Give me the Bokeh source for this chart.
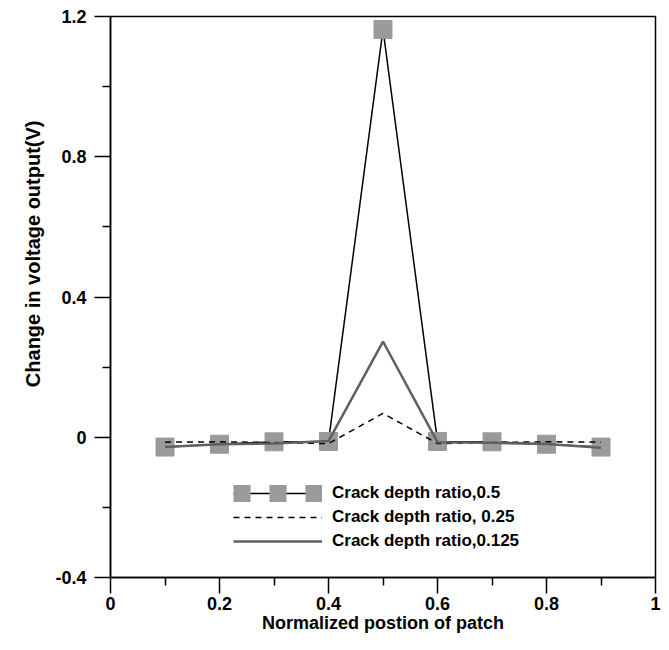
from bokeh.plotting import figure
from bokeh.models import FixedTicker, NumeralTickFormatter, Legend, LegendItem, Title
from bokeh.embed import file_html
from bokeh.resources import INLINE

x = [0.1, 0.2, 0.3, 0.4, 0.5, 0.6, 0.7, 0.8, 0.9]
ratio_050 = [-0.028, -0.020, -0.013, -0.012, 1.163, -0.012, -0.013, -0.020, -0.028]
ratio_025 = [-0.014, -0.013, -0.015, -0.018, 0.068, -0.018, -0.015, -0.013, -0.014]
ratio_0125 = [-0.028, -0.020, -0.018, -0.011, 0.273, -0.014, -0.016, -0.019, -0.030]
labels = ["Crack depth ratio,0.5", "Crack depth ratio, 0.25", "Crack depth ratio,0.125"]
x_title = "Normalized postion of patch"
y_title = "Change in voltage output(V)"
x_ticks = [0, 0.2, 0.4, 0.6, 0.8, 1]
x_minor = [0.1, 0.3, 0.5, 0.7, 0.9]
y_ticks = [-0.4, 0, 0.4, 0.8, 1.2]
y_minor = [-0.2, 0.2, 0.6, 1.0]

FONT = "Liberation Sans"
SQ = "#9a9a9a"

p = figure(width=669, height=650, x_range=(0, 1), y_range=(-0.4, 1.2),
           output_backend="svg", toolbar_location=None,
           min_border_left=110, min_border_right=14, min_border_top=16, min_border_bottom=73)
p.xgrid.visible = False
p.ygrid.visible = False
p.outline_line_color = "black"
p.outline_line_width = 1.5
p.background_fill_color = "white"
p.border_fill_color = "white"

r1l = p.line(x, ratio_050, line_color="black", line_width=1.5)
r1s = p.scatter(x, ratio_050, marker="square", size=18, fill_color=SQ, line_color=SQ)
r2 = p.line(x, ratio_025, line_color="black", line_width=1.5, line_dash="6 5")
r3 = p.line(x, ratio_0125, line_color="#606060", line_width=2.5)
# legend-only glyph (hidden in the plot): row of squares for the first series
r1k = p.line(x, ratio_050, line_color=SQ, line_width=17, line_dash="17 19",
             line_cap="butt", visible=False)

for ax, ticks, minor in ((p.xaxis[0], x_ticks, x_minor), (p.yaxis[0], y_ticks, y_minor)):
    ax.ticker = FixedTicker(ticks=ticks, minor_ticks=minor)
    ax.formatter = NumeralTickFormatter(format="0.[0]")
    ax.major_tick_in = 0
    ax.major_tick_out = 16
    ax.minor_tick_in = 0
    ax.minor_tick_out = 8
    ax.axis_line_width = 1.5
    ax.major_tick_line_width = 1.5
    ax.minor_tick_line_width = 1.5
    ax.major_label_text_font = FONT
    ax.major_label_text_font_style = "bold"
    ax.major_label_text_font_size = "18px"
    ax.major_label_text_color = "black"
    ax.axis_label_text_font = FONT
    ax.axis_label_text_font_style = "bold"
    ax.axis_label_text_color = "black"

p.xaxis.axis_label = x_title
p.xaxis.axis_label_text_font_size = "18px"
p.xaxis.major_label_standoff = 3
p.xaxis.axis_label_standoff = 0
p.yaxis.major_label_standoff = 8

ytitle = Title(text=y_title, align="right", offset=104, standoff=18,
               text_font=FONT, text_font_style="bold", text_font_size="20px",
               text_color="black")
p.add_layout(ytitle, "left")

legend = Legend(items=[LegendItem(label=labels[0], renderers=[r1l, r1k]),
                       LegendItem(label=labels[1], renderers=[r2]),
                       LegendItem(label=labels[2], renderers=[r3])],
                location=(123, 26), orientation="vertical")
legend.border_line_alpha = 0
legend.background_fill_alpha = 0
legend.padding = 0
legend.margin = 0
legend.spacing = 4
legend.glyph_width = 89
legend.glyph_height = 20
legend.label_height = 20
legend.label_standoff = 10
legend.label_text_font = FONT
legend.label_text_font_style = "bold"
legend.label_text_font_size = "17px"
legend.label_text_color = "black"
p.add_layout(legend, "center")

open("out.html", "w").write(file_html(p, INLINE))
